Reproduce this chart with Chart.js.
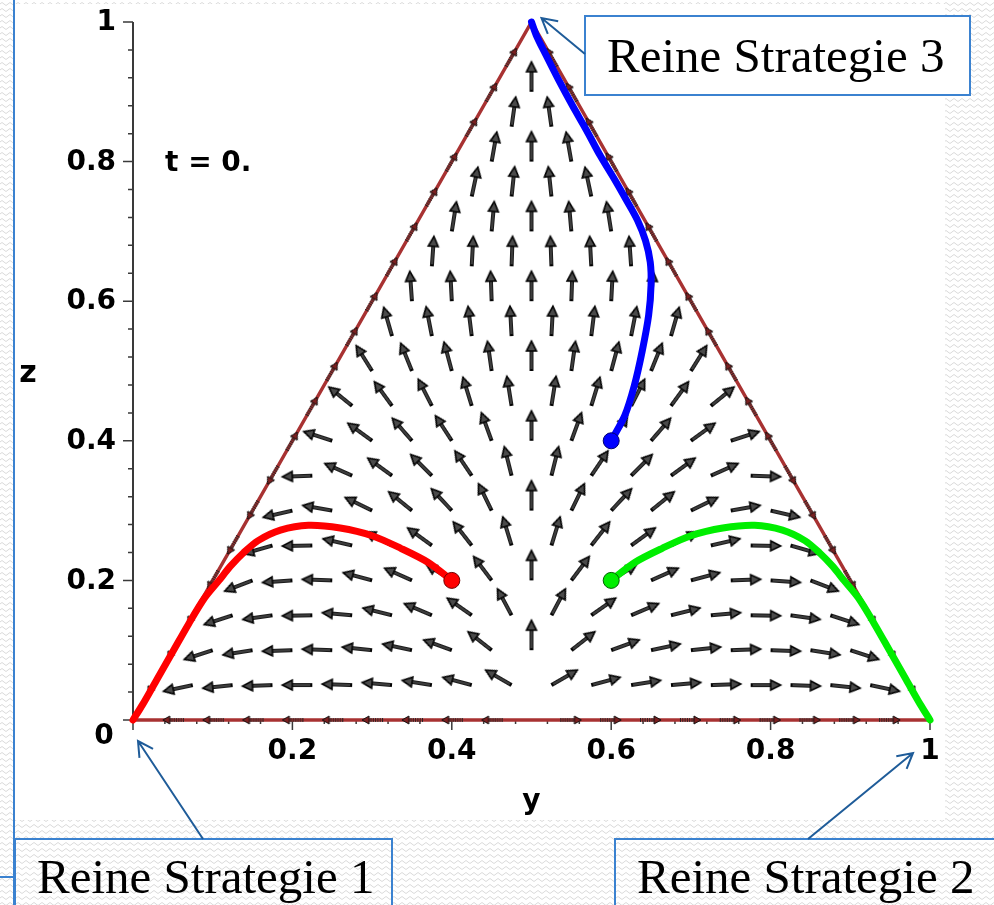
<!DOCTYPE html>
<html>
<head>
<meta charset="utf-8">
<script src="https://cdn.jsdelivr.net/npm/chart.js@4.4.0/dist/chart.umd.min.js"></script>
<style>
  html, body { margin: 0; padding: 0; background: #fff; }
  #wrap { width: 994px; height: 905px; }
</style>
</head>
<body>
<div id="wrap"><canvas id="simplex" width="994" height="905"></canvas></div>
<script>
// Trajectories, as (y, z)
const redY = [0.400, 0.370, 0.336, 0.300, 0.260, 0.220, 0.185, 0.157, 0.139, 0.122, 0.108, 0.090, 0.070, 0.050, 0.030, 0.012, 0.000];
const redZ = [0.200, 0.226, 0.246, 0.264, 0.275, 0.279, 0.272, 0.257, 0.240, 0.220, 0.200, 0.175, 0.138, 0.098, 0.058, 0.022, 0.000];
const greenY = [0.600, 0.630, 0.664, 0.700, 0.740, 0.780, 0.815, 0.843, 0.861, 0.878, 0.892, 0.910, 0.930, 0.950, 0.970, 0.988, 1.000];
const greenZ = [0.200, 0.226, 0.246, 0.264, 0.275, 0.279, 0.272, 0.257, 0.240, 0.220, 0.200, 0.175, 0.138, 0.098, 0.058, 0.022, 0.000];
const blueY = [0.600, 0.617, 0.629, 0.639, 0.647, 0.650, 0.649, 0.643, 0.633, 0.619, 0.605, 0.586, 0.569, 0.551, 0.534, 0.518, 0.506, 0.500];
const blueZ = [0.400, 0.436, 0.479, 0.529, 0.580, 0.623, 0.656, 0.687, 0.716, 0.745, 0.773, 0.809, 0.845, 0.881, 0.917, 0.953, 0.981, 1.000];

// start points of the three orbits
const startY = [0.4, 0.6, 0.6];
const startZ = [0.2, 0.2, 0.4];
const orbitColors = ['#ff0000', '#00ee00', '#0000ff'];

// simplex corners (strategy 1, 3, 2)
const cornerY = [0, 0.5, 1, 0];
const cornerZ = [0, 1, 0, 0];

// direction field: lattice rows at z = 0.05 .. 0.90, points at y = z/2 + 0.05*k
// angles in degrees on screen (0 = right, 90 = up), left to right
const fieldStep = 0.05;
const fieldZ = [0.05, 0.10, 0.15, 0.20, 0.25, 0.30, 0.35, 0.40, 0.45, 0.50, 0.55, 0.60, 0.65, 0.70, 0.75, 0.80, 0.85, 0.90];
const angZ05 = [192, 186, 182, 180, 178, 175, 171, 165, 150, 30, 15, 9, 5, 2, 0, -2, -6, -12];
const angZ10 = [198, 189, 182, 178, 174, 168, 160, 142, 90, 38, 20, 12, 6, 2, -2, -9, -18];
const angZ15 = [198, 188, 181, 175, 166, 157, 145, 118, 62, 35, 23, 14, 5, -1, -8, -18];
const angZ20 = [201, 184, 178, 165, 156, 148, 127, 90, 53, 32, 24, 15, 2, -4, -21];
const angZ25 = [196, 181, 167, 153, 144, 128, 107, 73, 52, 36, 27, 13, -1, -16];
const angZ30 = [193, 170, 154, 141, 133, 116, 90, 64, 47, 39, 26, 10, -13];
const angZ35 = [182, 156, 144, 135, 124, 104, 76, 56, 45, 36, 24, -2];
const angZ40 = [162, 144, 131, 123, 110, 90, 70, 57, 49, 36, 18];
const angZ45 = [141, 126, 117, 107, 99, 81, 73, 63, 54, 39];
const angZ50 = [122, 112, 105, 98, 90, 82, 75, 68, 58];
const angZ55 = [106, 101, 97, 93, 87, 83, 79, 74];
const angZ60 = [94, 93, 92, 90, 88, 87, 86];
const angZ65 = [86, 87, 88, 92, 93, 94];
const angZ70 = [81, 85, 90, 95, 99];
const angZ75 = [78, 84, 96, 102];
const angZ80 = [80, 90, 100];
const angZ85 = [82, 98];
const angZ90 = [90];
const fieldRows = [angZ05, angZ10, angZ15, angZ20, angZ25, angZ30, angZ35, angZ40, angZ45,
  angZ50, angZ55, angZ60, angZ65, angZ70, angZ75, angZ80, angZ85, angZ90];

// flow direction on the simplex edges (-1 towards lower corner, +1 upwards / outwards)
const leftEdgeDir = [-1, -1, -1, -1, -1, -1, -1, 1, 1, 1, 1, 1, 1, 1, 1, 1, 1, 1, 1];
const rightEdgeDir = [-1, -1, -1, -1, -1, -1, -1, 1, 1, 1, 1, 1, 1, 1, 1, 1, 1, 1, 1];
const bottomEdgeDir = [-1, -1, -1, -1, -1, -1, -1, -1, -1, 0, 1, 1, 1, 1, 1, 1, 1, 1, 1];

// axis ticks
const tickValues = [0.2, 0.4, 0.6, 0.8, 1];
const tickLabels = ['0.2', '0.4', '0.6', '0.8', '1'];

const toPts = (ys, zs) => ys.map((v, i) => ({ x: v, y: zs[i] }));

// field arrow sprite, tail in the middle, pointing right
function makeArrow(len) {
  const size = 2 * len + 10;
  const c = document.createElement('canvas');
  c.width = size; c.height = size;
  const g = c.getContext('2d');
  const cx = size / 2, cy = size / 2;
  const tip = cx + len, base = tip - 10;
  g.strokeStyle = '#000'; g.lineWidth = 3.8;
  g.beginPath(); g.moveTo(cx, cy); g.lineTo(base + 1, cy); g.stroke();
  g.strokeStyle = '#7a7a7a'; g.lineWidth = 1;
  g.beginPath(); g.moveTo(cx + 2, cy); g.lineTo(base, cy); g.stroke();
  g.fillStyle = '#4a4a4a'; g.strokeStyle = '#000'; g.lineWidth = 1.5;
  g.beginPath(); g.moveTo(tip, cy); g.lineTo(base, cy - 5); g.lineTo(base, cy + 5); g.closePath();
  g.fill(); g.stroke();
  return c;
}

// small hatched marker used along the edges
function makeEdgeMark() {
  const c = document.createElement('canvas');
  c.width = 26; c.height = 14;
  const g = c.getContext('2d');
  g.strokeStyle = '#222'; g.lineWidth = 4; g.setLineDash([1, 1.3]);
  g.beginPath(); g.moveTo(2, 7); g.lineTo(17, 7); g.stroke();
  g.setLineDash([]);
  g.fillStyle = '#7a2020'; g.strokeStyle = '#111'; g.lineWidth = 1;
  g.beginPath(); g.moveTo(23, 7); g.lineTo(16, 3); g.lineTo(16, 11); g.closePath(); g.fill(); g.stroke();
  return c;
}

const arrowImg = makeArrow(30);
const markImg = makeEdgeMark();

const fieldPts = [];
fieldRows.forEach((angles, r) => {
  angles.forEach((a, k) => {
    fieldPts.push({ x: fieldZ[r] / 2 + fieldStep * (k + 1), y: fieldZ[r], a: a });
  });
});

const edgePts = [];
leftEdgeDir.forEach((d, i) => {
  const z = fieldStep * (i + 1);
  edgePts.push({ x: z / 2, y: z, dx: 0.5 * d, dy: d });
});
rightEdgeDir.forEach((d, i) => {
  const z = fieldStep * (i + 1);
  edgePts.push({ x: 1 - z / 2, y: z, dx: -0.5 * d, dy: d });
});
bottomEdgeDir.forEach((d, i) => {
  if (d !== 0) edgePts.push({ x: fieldStep * (i + 1), y: 0, dx: d, dy: 0 });
});

// wavy slide texture
const texture = (() => {
  const c = document.createElement('canvas');
  c.width = 8; c.height = 6;
  const g = c.getContext('2d');
  g.fillStyle = '#fff'; g.fillRect(0, 0, 8, 6);
  g.strokeStyle = '#dadada'; g.lineWidth = 1;
  g.beginPath(); g.moveTo(0, 4); g.quadraticCurveTo(2, 1, 4, 4); g.quadraticCurveTo(6, 7, 8, 4); g.stroke();
  return c;
})();

function arrowLine(ctx, x1, y1, x2, y2) {
  const ang = Math.atan2(y2 - y1, x2 - x1);
  ctx.beginPath();
  ctx.moveTo(x1, y1); ctx.lineTo(x2, y2);
  ctx.moveTo(x2 - 17 * Math.cos(ang - 0.5), y2 - 17 * Math.sin(ang - 0.5));
  ctx.lineTo(x2, y2);
  ctx.lineTo(x2 - 17 * Math.cos(ang + 0.5), y2 - 17 * Math.sin(ang + 0.5));
  ctx.stroke();
}

const slidePlugin = {
  id: 'slide',
  beforeDraw(chart) {
    const ctx = chart.ctx;
    ctx.save();
    ctx.fillStyle = ctx.createPattern(texture, 'repeat');
    ctx.fillRect(0, 0, chart.width, chart.height);
    ctx.fillStyle = '#fff';
    ctx.fillRect(14, 4, 931, 816);
    ctx.restore();
  },
  beforeDatasetsDraw(chart) {
    const ctx = chart.ctx;
    const xs = chart.scales.x, ys = chart.scales.y;
    const left = xs.getPixelForValue(0), bottom = ys.getPixelForValue(0);
    ctx.save();
    ctx.strokeStyle = '#3a3a3a';
    ctx.lineWidth = 2;
    ctx.beginPath();
    ctx.moveTo(left, bottom); ctx.lineTo(left, ys.getPixelForValue(1));
    ctx.moveTo(left, bottom); ctx.lineTo(xs.getPixelForValue(1), bottom);
    ctx.stroke();
    ctx.lineWidth = 1.5;
    ctx.beginPath();
    for (let k = 0; k <= 25; k++) {
      const major = k % 5 === 0;
      const py = ys.getPixelForValue(k * 0.04);
      ctx.moveTo(left, py); ctx.lineTo(left - (major ? 10 : 5), py);
      const px = xs.getPixelForValue(k * 0.04);
      ctx.moveTo(px, bottom); ctx.lineTo(px, bottom + (major ? 10 : 4));
    }
    ctx.stroke();

    ctx.fillStyle = '#000';
    ctx.font = 'bold 28px "DejaVu Sans"';
    ctx.textBaseline = 'middle';
    ctx.textAlign = 'right';
    tickValues.forEach((v, i) => ctx.fillText(tickLabels[i], left - 17, ys.getPixelForValue(v) + 1));
    ctx.textAlign = 'center';
    tickValues.forEach((v, i) => ctx.fillText(tickLabels[i], xs.getPixelForValue(v), bottom + 32));
    ctx.fillText('0', left - 29, bottom + 17);
    ctx.textBaseline = 'alphabetic';
    ctx.fillText('y', xs.getPixelForValue(0.5), bottom + 89);
    ctx.font = 'bold 30px "DejaVu Sans"';
    ctx.textBaseline = 'middle';
    ctx.fillText('z', 28, ys.getPixelForValue(0.5) + 3);
    ctx.font = 'bold 28px "DejaVu Sans"';
    ctx.textAlign = 'left';
    ctx.fillText('t = 0.', 165, ys.getPixelForValue(0.8) + 2);
    ctx.restore();
  },
  afterDraw(chart) {
    const ctx = chart.ctx;
    const xs = chart.scales.x, ys = chart.scales.y;
    ctx.save();
    // frame line on the slide
    ctx.strokeStyle = '#3b82d0';
    ctx.lineWidth = 2;
    ctx.beginPath();
    ctx.moveTo(14, 0); ctx.lineTo(14, 905);
    ctx.moveTo(0, 877); ctx.lineTo(14, 877);
    ctx.stroke();

    // callout boxes
    ctx.fillStyle = '#fff';
    ctx.fillRect(585, 16, 385, 79);
    ctx.strokeRect(585, 16, 385, 79);
    ctx.strokeRect(15, 839, 377, 80);
    ctx.strokeRect(615, 839, 390, 80);

    ctx.fillStyle = '#000';
    ctx.font = '49px "Liberation Serif"';
    ctx.textAlign = 'left';
    ctx.textBaseline = 'alphabetic';
    ctx.fillText('Reine Strategie 3', 607, 72);
    ctx.fillText('Reine Strategie 1', 37, 893);
    ctx.fillText('Reine Strategie 2', 637, 893);

    // callout arrows towards the corners
    ctx.strokeStyle = '#1f5c99';
    ctx.lineWidth = 2;
    arrowLine(ctx, 585, 54, xs.getPixelForValue(0.5) + 10, ys.getPixelForValue(1) - 4);
    arrowLine(ctx, 203, 839, xs.getPixelForValue(0) + 5, ys.getPixelForValue(0) + 21);
    arrowLine(ctx, 808, 839, xs.getPixelForValue(1) - 17, ys.getPixelForValue(0) + 33);
    ctx.restore();
  }
};

new Chart(document.getElementById('simplex'), {
  type: 'scatter',
  data: {
    datasets: [
      {
        label: 'Start',
        data: toPts(startY, startZ),
        pointRadius: 8,
        pointBackgroundColor: orbitColors,
        pointBorderColor: ['#700000', '#006000', '#000070'],
        pointBorderWidth: 1,
        order: 0,
        clip: false
      },
      {
        label: 'rot',
        data: toPts(redY, redZ),
        showLine: true,
        borderColor: orbitColors[0],
        borderWidth: 7,
        tension: 0.3,
        borderCapStyle: 'round',
        pointRadius: 0,
        order: 1,
        clip: false
      },
      {
        label: 'gruen',
        data: toPts(greenY, greenZ),
        showLine: true,
        borderColor: orbitColors[1],
        borderWidth: 7,
        tension: 0.3,
        borderCapStyle: 'round',
        pointRadius: 0,
        order: 1,
        clip: false
      },
      {
        label: 'blau',
        data: toPts(blueY, blueZ),
        showLine: true,
        borderColor: orbitColors[2],
        borderWidth: 7,
        tension: 0.3,
        borderCapStyle: 'round',
        pointRadius: 0,
        order: 1,
        clip: false
      },
      {
        label: 'Feld',
        data: fieldPts,
        pointStyle: arrowImg,
        pointRadius: 3,
        pointRotation: (c) => -c.raw.a,
        order: 2,
        clip: false
      },
      {
        label: 'Rand',
        data: edgePts,
        pointStyle: markImg,
        pointRadius: 3,
        pointRotation: (c) => {
          const s = c.chart.scales;
          const p = c.raw;
          const dx = s.x.getPixelForValue(p.x + p.dx) - s.x.getPixelForValue(p.x);
          const dy = s.y.getPixelForValue(p.y + p.dy) - s.y.getPixelForValue(p.y);
          return Math.atan2(dy, dx) * 180 / Math.PI;
        },
        order: 3,
        clip: false
      },
      {
        label: 'Simplex',
        data: toPts(cornerY, cornerZ),
        showLine: true,
        borderColor: '#a83232',
        borderWidth: 3.5,
        pointRadius: 0,
        order: 4,
        clip: false
      }
    ]
  },
  options: {
    responsive: false,
    animation: false,
    events: [],
    layout: { padding: { left: 133, right: 64, top: 22, bottom: 185 } },
    scales: {
      x: { type: 'linear', min: 0, max: 1, display: false },
      y: { type: 'linear', min: 0, max: 1, display: false }
    },
    plugins: {
      legend: { display: false },
      tooltip: { enabled: false }
    }
  },
  plugins: [slidePlugin]
});
</script>
</body>
</html>
